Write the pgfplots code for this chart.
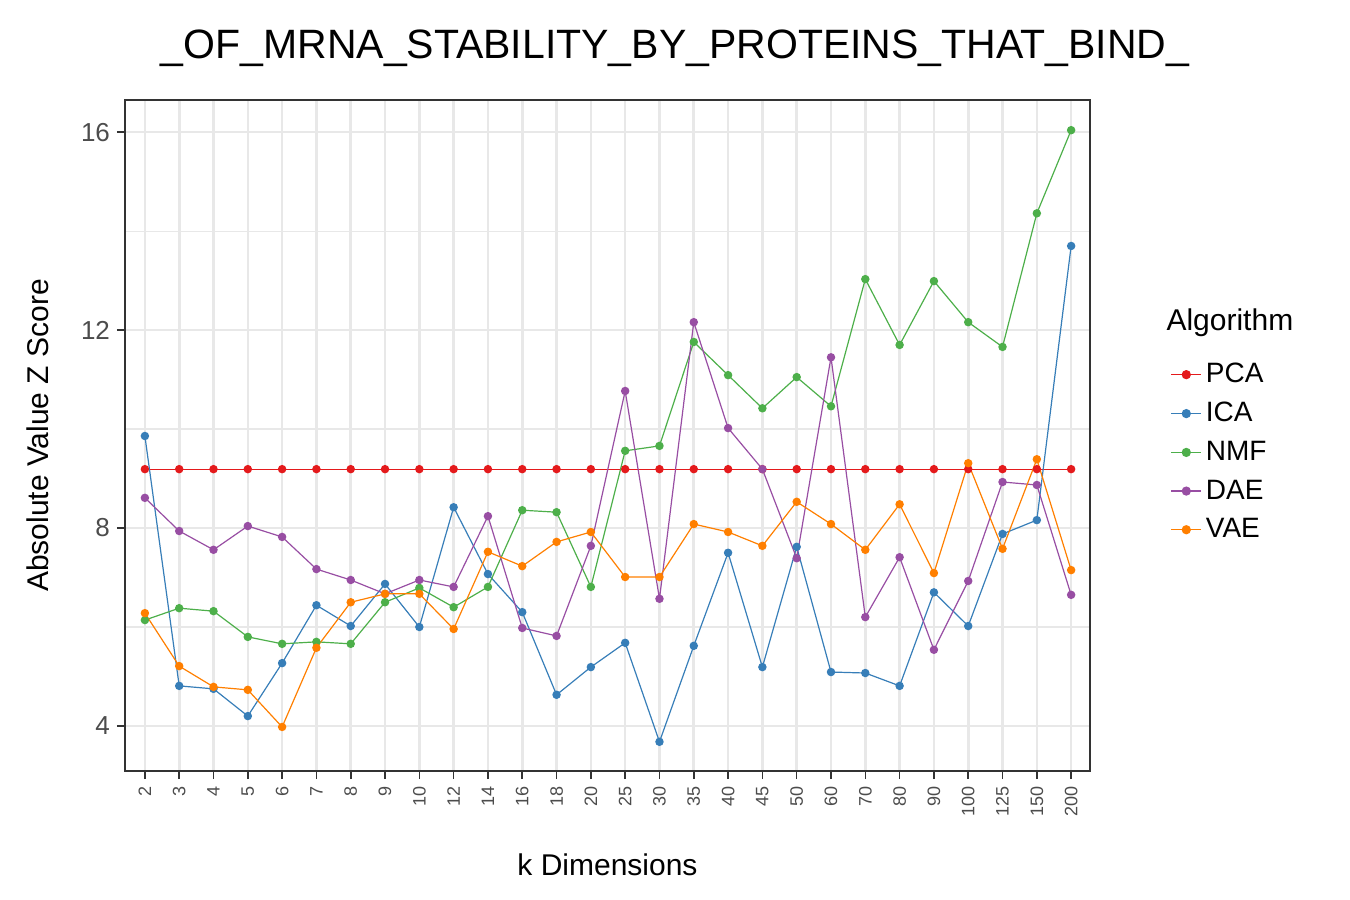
\documentclass[border=0pt]{standalone}
\usepackage{pgfplots}
\pgfplotsset{compat=1.18}
\usepackage{fontspec}
\setmainfont{Liberation Sans}
\definecolor{cPCA}{HTML}{E41A1C}
\definecolor{cICA}{HTML}{377EB8}
\definecolor{cNMF}{HTML}{4DAF4A}
\definecolor{cDAE}{HTML}{984EA3}
\definecolor{cVAE}{HTML}{FF7F00}
\definecolor{gridc}{gray}{0.91}
\definecolor{txt}{gray}{0.3}
\begin{document}
\begin{tikzpicture}[x=1pt,y=1pt]
\useasboundingbox (0,0) rectangle (675,450);
\node[font=\fontsize{20.5}{24}\selectfont] at (337.5,426) {\_OF\_MRNA\_STABILITY\_BY\_PROTEINS\_THAT\_BIND\_};
\begin{axis}[
  at={(62.5pt,64.5pt)}, anchor=south west,
  width=482.5pt, height=335.5pt, scale only axis, clip=false,
  xmin=-0.58, xmax=27.55, ymin=3.09, ymax=16.65,
  xtick={0,...,27},
  xticklabels={2,3,4,5,6,7,8,9,10,12,14,16,18,20,25,30,35,40,45,50,60,70,80,90,100,125,150,200},
  xticklabel style={rotate=90, anchor=east, font=\fontsize{9}{10}\selectfont, text=txt},
  ytick={4,8,12,16},
  minor ytick={6,10,14},
  yticklabel style={font=\fontsize{13}{14}\selectfont, text=txt},
  /pgf/number format/assume math mode=true,
  grid=both,
  major grid style={gridc, line width=1.3pt},
  minor grid style={gridc, line width=0.6pt},
  axis line style={black!80, line width=0.8pt},
  tick align=outside, tick pos=left,
  major tick style={black!80, line width=0.8pt},
  major tick length=4pt,
  minor tick length=0pt,
  xlabel={k Dimensions}, ylabel={Absolute Value Z Score},
  label style={font=\fontsize{15}{17}\selectfont},
  xlabel style={yshift=-12pt},
  ylabel style={yshift=9pt},
  legend style={at={(1.077,0.62)}, anchor=north west, draw=none, fill=none,
    font=\fontsize{14}{16}\selectfont, row sep=4.2pt},
  legend cell align=left,
  legend image code/.code={\draw[#1] (0pt,0pt) -- (15pt,0pt); \fill[#1] (7.5pt,0pt) circle (2pt);},
  every axis plot/.append style={line width=0.6pt, mark=*, mark size=1.8pt},
]
\addplot[cPCA] coordinates {(0,9.19)(1,9.19)(2,9.19)(3,9.19)(4,9.19)(5,9.19)(6,9.19)(7,9.19)(8,9.19)(9,9.19)(10,9.19)(11,9.19)(12,9.19)(13,9.19)(14,9.19)(15,9.19)(16,9.19)(17,9.19)(18,9.19)(19,9.19)(20,9.19)(21,9.19)(22,9.19)(23,9.19)(24,9.19)(25,9.19)(26,9.19)(27,9.19)};
\addplot[cICA] coordinates {(0,9.86)(1,4.81)(2,4.75)(3,4.2)(4,5.27)(5,6.44)(6,6.02)(7,6.87)(8,6.0)(9,8.42)(10,7.07)(11,6.3)(12,4.63)(13,5.19)(14,5.68)(15,3.68)(16,5.62)(17,7.5)(18,5.19)(19,7.62)(20,5.09)(21,5.07)(22,4.81)(23,6.7)(24,6.02)(25,7.88)(26,8.16)(27,13.7)};
\addplot[cNMF] coordinates {(0,6.14)(1,6.38)(2,6.32)(3,5.8)(4,5.66)(5,5.7)(6,5.66)(7,6.5)(8,6.79)(9,6.4)(10,6.81)(11,8.36)(12,8.32)(13,6.81)(14,9.56)(15,9.66)(16,11.76)(17,11.09)(18,10.42)(19,11.05)(20,10.46)(21,13.03)(22,11.7)(23,12.99)(24,12.16)(25,11.66)(26,14.36)(27,16.04)};
\addplot[cDAE] coordinates {(0,8.61)(1,7.94)(2,7.56)(3,8.04)(4,7.82)(5,7.17)(6,6.95)(7,6.67)(8,6.95)(9,6.81)(10,8.24)(11,5.98)(12,5.82)(13,7.64)(14,10.77)(15,6.57)(16,12.16)(17,10.02)(18,9.19)(19,7.39)(20,11.45)(21,6.2)(22,7.41)(23,5.54)(24,6.93)(25,8.93)(26,8.87)(27,6.65)};
\addplot[cVAE] coordinates {(0,6.28)(1,5.21)(2,4.79)(3,4.73)(4,3.98)(5,5.58)(6,6.5)(7,6.67)(8,6.67)(9,5.96)(10,7.52)(11,7.23)(12,7.72)(13,7.92)(14,7.01)(15,7.01)(16,8.08)(17,7.92)(18,7.64)(19,8.53)(20,8.08)(21,7.56)(22,8.48)(23,7.09)(24,9.31)(25,7.58)(26,9.39)(27,7.15)};
\legend{PCA,ICA,NMF,DAE,VAE}
\node[anchor=west, font=\fontsize{15}{17}\selectfont] at (rel axis cs:1.072,0.668) {Algorithm};
\end{axis}
\end{tikzpicture}
\end{document}
